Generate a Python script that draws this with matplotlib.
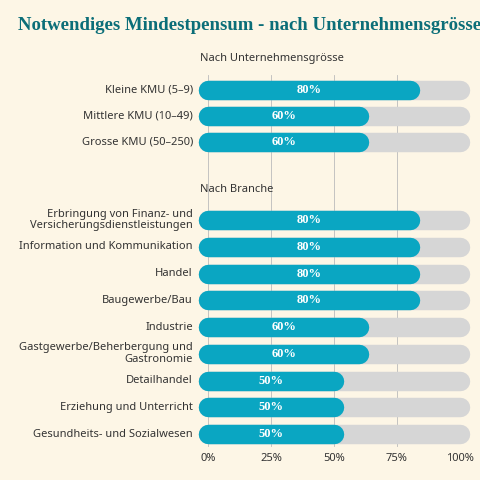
import matplotlib
matplotlib.use('Agg')
import matplotlib.pyplot as plt

title = 'Notwendiges Mindestpensum - nach Unternehmensgrösse und Branche'
size_labels = ['Kleine KMU (5–9)', 'Mittlere KMU (10–49)', 'Grosse KMU (50–250)']
size_values = [80, 60, 60]
branch_labels = ['Erbringung von Finanz- und\nVersicherungsdienstleistungen',
                 'Information und Kommunikation', 'Handel', 'Baugewerbe/Bau',
                 'Industrie', 'Gastgewerbe/Beherbergung und\nGastronomie',
                 'Detailhandel', 'Erziehung und Unterricht',
                 'Gesundheits- und Sozialwesen']
branch_values = [80, 80, 80, 80, 60, 60, 50, 50, 50]
ticks = [0, 25, 50, 75, 100]

bg = '#fdf6e6'
teal = '#0aa6c2'
track = '#d6d6d6'

fig = plt.figure(figsize=(4.8, 4.8), dpi=100, facecolor=bg)
# axes spans pixel x 208..460, y 70..450
ax = fig.add_axes([208/480, 1 - 450/480, 252/480, 380/480], facecolor=bg)
ax.set_xlim(0, 100)
ax.set_ylim(450, 70)

size_y = [90, 116, 142]
branch_y = [220 + i * 26.75 for i in range(len(branch_values))]

for t in ticks:
    ax.plot([t, t], [75, 446], color='#bbbbbb', lw=0.6, zorder=0)

def draw(ys, labels, values):
    for y, lab, v in zip(ys, labels, values):
        ax.plot([0, 100], [y, y], color=track, lw=14, solid_capstyle='round',
                zorder=1, clip_on=False)
        ax.plot([0, v], [y, y], color=teal, lw=14, solid_capstyle='round',
                zorder=2, clip_on=False)
        ax.text(v / 2, y, f'{v}%', color='white', ha='center', va='center',
                fontsize=9, fontweight='bold', family='Liberation Serif', zorder=3)
        ax.text(-6, y, lab, ha='right', va='center', fontsize=8, color='#333333',
                linespacing=1.1, family='Noto Sans')

draw(size_y, size_labels, size_values)
draw(branch_y, branch_labels, branch_values)

fig.text(200/480, 1 - 59/480, 'Nach Unternehmensgrösse', fontsize=8,
         fontweight='bold', color='#333333', va='center', family='Noto Sans')
fig.text(200/480, 1 - 189/480, 'Nach Branche', fontsize=8,
         fontweight='bold', color='#333333', va='center', family='Noto Sans')
fig.text(18/480, 1 - 25/480, title, fontsize=13.5, fontweight='bold',
         color='#0b6e78', va='center', family='Liberation Serif')

ax.set_xticks(ticks)
ax.set_xticklabels([f'{t}%' for t in ticks], fontsize=8, color='#333333', family='Noto Sans')
ax.set_yticks([])
ax.tick_params(axis='x', length=0, pad=2)
for s in ax.spines.values():
    s.set_visible(False)

fig.savefig('out.png', dpi=100, facecolor=bg)
